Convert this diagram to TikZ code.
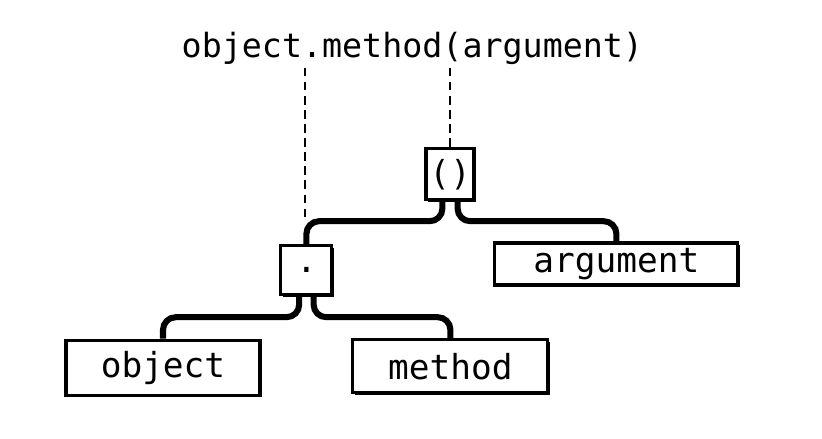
\documentclass[tikz,border=0pt]{standalone}
\usepackage{fontspec}
\newfontfamily\handfont{DejaVu Sans Mono}
\usetikzlibrary{shadows}

\begin{document}
\begin{tikzpicture}[
    box/.style={draw, line width=2.2pt, fill=white, inner sep=0pt,
      font=\handfont\fontsize{24.5}{29}\selectfont,
      drop shadow={shadow xshift=0.05cm, shadow yshift=-0.05cm, opacity=1, fill=black}},
    link/.style={line width=4.3pt, rounded corners=9pt},
    guide/.style={line width=1.3pt, dash pattern=on 6pt off 4pt}]
        \useasboundingbox (0,0) rectangle (20.55,-10.975);

        % the expression
        \node[inner sep=0pt, font=\handfont\fontsize{23.7}{28}\selectfont] (code) at (10.31,-1.2) {object.method(argument)};

        % tree nodes
        \node[box, minimum width=1.2cm, minimum height=1.275cm] (call) at (11.25,-4.36) {()};
        \node[box, minimum width=1.275cm, minimum height=1.225cm] (dot) at (7.66,-6.76) {.};
        \node[box, minimum width=6.075cm, minimum height=1.05cm] (arg) at (15.41,-6.6) {argument};
        \node[box, minimum width=4.85cm, minimum height=1.375cm] (obj) at (4.075,-9.19) {object};
        \node[box, minimum width=4.875cm, minimum height=1.325cm] (meth) at (11.26,-9.16) {method};

        % dashed guides
        \coordinate (dotguide) at (7.62,-5.55);
        \draw[guide] (dotguide |- 0,-1.7) -- (dotguide);
        \draw[guide] (call.north |- 0,-1.7) -- (call.north);

        % branches
        \draw[link] ([xshift=-0.19cm]call.south) |- (dot.north |- 0,-5.53) -- (dot.north);
        \draw[link] ([xshift=0.19cm]call.south) |- (arg.north |- 0,-5.53) -- (arg.north);
        \draw[link] ([xshift=-0.18cm]dot.south) |- (obj.north |- 0,-7.93) -- (obj.north);
        \draw[link] ([xshift=0.18cm]dot.south) |- (meth.north |- 0,-7.93) -- (meth.north);

    \end{tikzpicture}
\end{document}
